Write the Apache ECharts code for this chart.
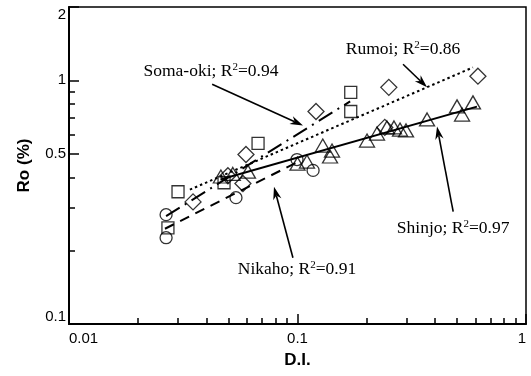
<!DOCTYPE html>
<html>
<head>
<meta charset="utf-8">
<script src="https://cdn.jsdelivr.net/npm/echarts@6/dist/echarts.min.js"></script>
<style>html,body{margin:0;padding:0;background:#fff}#c{width:531px;height:376px}</style>
</head>
<body>
<div id="c"></div>
<script>
// ---- data (x = D.I., y = Ro %) ----
const nikahoPts = [[0.0266,0.281],[0.0266,0.226],[0.0538,0.330],[0.0995,0.473],[0.117,0.427]];
const somaPts = [[0.0271,0.248],[0.030,0.349],[0.0477,0.380],[0.0672,0.551],[0.171,0.893],[0.171,0.745]];
const rumoiPts = [[0.0349,0.317],[0.0496,0.406],[0.0577,0.377],[0.0595,0.496],[0.1205,0.745],[0.241,0.641],[0.251,0.936],[0.616,1.04]];
const shinjoPts = [[0.0462,0.403],[0.0521,0.413],[0.0607,0.422],[0.100,0.455],[0.110,0.464],[0.129,0.540],[0.1388,0.487],[0.1416,0.515],[0.2015,0.566],[0.2228,0.605],[0.2463,0.641],[0.2644,0.641],[0.281,0.628],[0.2985,0.623],[0.369,0.691],[0.499,0.782],[0.525,0.724],[0.586,0.812]];
// fitted lines (end points)
const somaFit = [[0.0266,0.277],[0.17,0.82]];
const rumoiFit = [[0.0338,0.356],[0.586,1.13]];
const shinjoFit = [[0.046,0.392],[0.61,0.78]];
const nikahoFit = [[0.0263,0.246],[0.100,0.462]];
// annotations: label text, label anchor, arrow start, arrow tip
const annTexts = ['Soma-oki; R{sup|2}=0.94','Rumoi; R{sup|2}=0.86','Shinjo; R{sup|2}=0.97','Nikaho; R{sup|2}=0.91'];
const annLabelAt = [[0.0418,1.089],[0.2897,1.342],[0.48,0.246],[0.0995,0.167]];
const annFrom = [[0.0423,0.963],[0.2897,1.164],[0.48,0.289],[0.0955,0.187]];
const annTo = [[0.1057,0.653],[0.369,0.936],[0.408,0.647],[0.0789,0.366]];
// ticks
const xMajor = [0.01,0.1,1];
const xMajorLabels = ['0.01','0.1','1'];
const xMinor = [0.02,0.03,0.04,0.05,0.06,0.07,0.08,0.09,0.2,0.3,0.4,0.5,0.6,0.7,0.8,0.9];
const yMajor = [0.1,0.5,1,2];
const yMajorLabels = ['0.1','0.5','1','2'];
const yMinor = [0.2,0.3,0.4,0.6,0.7,0.8,0.9];

const chart = echarts.init(document.getElementById('c'));
const sansFont = 'Liberation Sans, Arial, sans-serif';
const serifFont = 'Liberation Serif, Times New Roman, serif';
function fmt(vals, labels){ return function(v){ for(let i=0;i<vals.length;i++){ if(Math.abs(v-vals[i])<1e-9*Math.max(1,vals[i])) return labels[i]; } return ''; }; }
const hollow = {color:'rgba(0,0,0,0)', borderColor:'#000', borderWidth:1.3};
function fitLine(name, d, type){
  return {name, type:'line', data:d, symbol:'none', silent:true, z:2,
    lineStyle:{color:'#000', width:2, type:type}};
}
function pts(name, d, symbol, size){
  return {name, type:'scatter', data:d, symbol, symbolSize:size, itemStyle:hollow, z:3};
}
const annData = annTexts.map((t,i)=>[annLabelAt[i][0],annLabelAt[i][1],annFrom[i][0],annFrom[i][1],annTo[i][0],annTo[i][1]]);

const option = {
  animation:false,
  backgroundColor:'#fff',
  grid:{left:69, right:5, top:7, bottom:52, show:true, borderColor:'#000', borderWidth:1.5},
  xAxis:[
    {type:'log', logBase:10, min:0.01, max:1, position:'bottom',
     axisLine:{show:true, lineStyle:{color:'#000', width:2}},
     axisTick:{show:true, inside:true, length:10, customValues:xMajor, lineStyle:{color:'#000', width:1.5}},
     axisLabel:{customValues:xMajor, formatter:fmt(xMajor,xMajorLabels), color:'#000', fontSize:15, fontFamily:sansFont, margin:7,
       alignMinLabel:'left', alignMaxLabel:'right'},
     splitLine:{show:false}, minorTick:{show:false},
     name:'D.I.', nameLocation:'middle', nameGap:28,
     nameTextStyle:{color:'#000', fontWeight:'bold', fontSize:17, fontFamily:sansFont}},
    {type:'log', logBase:10, min:0.01, max:1, position:'bottom',
     axisLine:{show:false},
     axisTick:{show:true, inside:true, length:6, customValues:xMinor, lineStyle:{color:'#000', width:1.5}},
     axisLabel:{show:false}, splitLine:{show:false}}
  ],
  yAxis:[
    {type:'log', logBase:10, min:0.1, max:2, position:'left',
     axisLine:{show:true, lineStyle:{color:'#000', width:2}},
     axisTick:{show:true, inside:true, length:10, customValues:yMajor, lineStyle:{color:'#000', width:1.5}},
     axisLabel:{customValues:yMajor, formatter:fmt(yMajor,yMajorLabels), color:'#000', fontSize:15, fontFamily:sansFont, margin:3,
       verticalAlignMinLabel:'bottom', verticalAlignMaxLabel:'top'},
     splitLine:{show:false},
     name:'Ro (%)', nameLocation:'middle', nameGap:36,
     nameTextStyle:{color:'#000', fontWeight:'bold', fontSize:17, fontFamily:sansFont}},
    {type:'log', logBase:10, min:0.1, max:2, position:'left',
     axisLine:{show:false},
     axisTick:{show:true, inside:true, length:6, customValues:yMinor, lineStyle:{color:'#000', width:1.5}},
     axisLabel:{show:false}, splitLine:{show:false}}
  ],
  series:[
    fitLine('Soma-oki fit', somaFit, [16,6,2,6]),
    fitLine('Rumoi fit', rumoiFit, [2.5,3]),
    fitLine('Shinjo fit', shinjoFit, 'solid'),
    fitLine('Nikaho fit', nikahoFit, [10,7]),
    pts('Nikaho', nikahoPts, 'circle', 12),
    pts('Soma-oki', somaPts, 'rect', 12),
    pts('Rumoi', rumoiPts, 'diamond', 16),
    pts('Shinjo', shinjoPts, 'triangle', [15,13]),
    {type:'custom', name:'annotations', data:annData, clip:false, z:5, silent:true,
     encode:{x:[0,2,4], y:[1,3,5]},
     renderItem:function(params, api){
       const i = params.dataIndex;
       const t = api.coord([api.value(0), api.value(1)]);
       const f = api.coord([api.value(2), api.value(3)]);
       const e = api.coord([api.value(4), api.value(5)]);
       const dx = e[0]-f[0], dy = e[1]-f[1];
       const len = Math.sqrt(dx*dx+dy*dy);
       const ux = dx/len, uy = dy/len, px = -uy, py = ux;
       const L = 13, W = 4.2;
       const bx = e[0]-L*ux, by = e[1]-L*uy;
       const nx = e[0]-0.7*L*ux, ny = e[1]-0.7*L*uy;
       return {type:'group', children:[
         {type:'line', shape:{x1:f[0], y1:f[1], x2:nx, y2:ny}, style:{stroke:'#000', lineWidth:1.6}},
         {type:'polygon', shape:{points:[[e[0],e[1]],[bx+W*px,by+W*py],[nx,ny],[bx-W*px,by-W*py]]}, style:{fill:'#000'}},
         {type:'text', x:t[0], y:t[1], style:{text:annTexts[i], align:'center', verticalAlign:'middle', fill:'#000',
           font:'17.5px '+serifFont,
           rich:{sup:{fontSize:11, fontFamily:serifFont, verticalAlign:'top', fill:'#000', lineHeight:20}}}}
       ]};
     }}
  ]
};
chart.setOption(option);
</script>
</body>
</html>
